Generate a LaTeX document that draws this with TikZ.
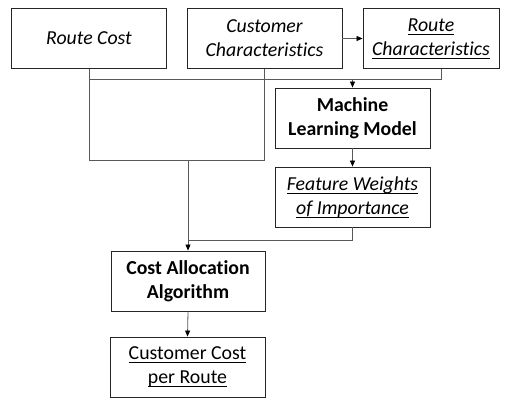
\documentclass[tikz,border=0pt]{standalone}
\usepackage{fontspec}
\setmainfont[Ligatures=NoCommon]{Carlito}
\usetikzlibrary{arrows.meta}
% underline drawn as a rule below the baseline
\newcommand{\undl}[1]{\setbox0\hbox{#1}\rlap{\raisebox{-3.2pt}{\rule{\wd0}{0.9pt}}}\box0}
\begin{document}
\begin{tikzpicture}[x=1pt,y=-1pt,
  box/.style={draw=black!85, line width=0.9pt, minimum width=155pt, minimum height=60pt,
    inner sep=0pt, align=center, font=\fontsize{19.8}{24}\selectfont},
  wire/.style={draw=black!65, line width=0.8pt},
  flow/.style={wire, -{Triangle[length=6pt,width=5pt,color=black]}}]
\useasboundingbox (0,0) rectangle (509,397);
\fill[white] (0,0) rectangle (509,397);

% inputs
\node[box] (rc) at (89,38.5) {\itshape Route Cost};
\node[box] (cc) at (264.5,38.5) {\itshape Customer\\\itshape Characteristics};
\node[box, minimum width=136pt] (rch) at (431,38.5) {\itshape\undl{Route}\\\itshape\undl{Characteristics}};

% model branch
\node[box] (ml) at (352.5,118) {\bfseries Machine\\\bfseries Learning Model};
\node[box] (fw) at (352.5,197) {\itshape\undl{Feature Weights}\\\itshape\undl{of Importance}};

% allocation
\node[box, minimum width=154pt] (ca) at (188,281) {\bfseries Cost Allocation\\\bfseries Algorithm};
\node[box] (ccr) at (187.5,367) {\undl{Customer Cost}\\\undl{per Route}};

% junction points
\coordinate (top) at (89,79);
\coordinate (low) at (89,160);
\coordinate (mid) at (188,240);

% connectors
\draw[flow] (cc.east) -- (rch.west);
\draw[wire] (rc.south) |- (low) -| (cc.south);
\draw[wire] (top) -| ([xshift=10pt]rch.south);
\draw[flow] (top -| ml.north) -- (ml.north);
\draw[flow] (ml.south) -- (fw.north);
\draw[flow] (low -| ca.north) -- (ca.north);
\draw[wire] (mid) -| (fw.south);
\draw[flow] (ca.south) -- (ccr.north);
\end{tikzpicture}
\end{document}
